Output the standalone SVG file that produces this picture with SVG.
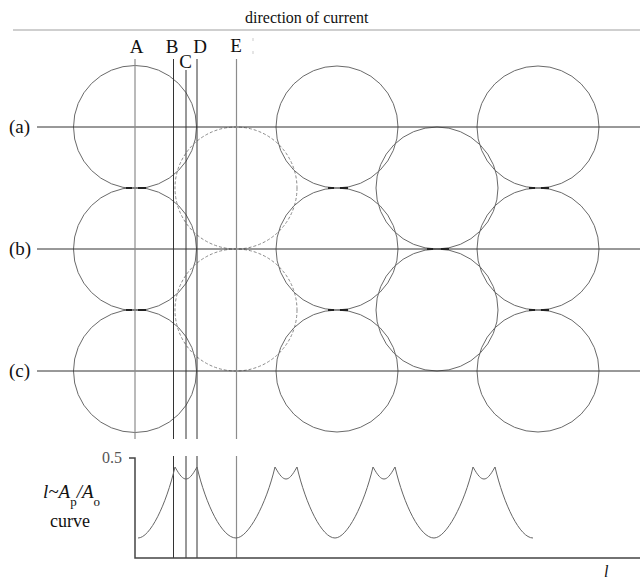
<svg xmlns="http://www.w3.org/2000/svg" width="640" height="579" viewBox="0 0 640 579" font-family="'Liberation Serif','DejaVu Serif','Noto Serif',serif">
<style>
text{font-family:"Liberation Serif","DejaVu Serif",serif;fill:#111}
.lbl{font-size:19px}
.sc{fill:none;stroke:#6a6a6a;stroke-width:1}
.dc{fill:none;stroke:#8a8a8a;stroke-width:1;stroke-dasharray:3 2}
.row{stroke:#333;stroke-width:1}
.vd{stroke:#333;stroke-width:1}
.vg{stroke:#8c8c8c;stroke-width:1.2}
.ct{stroke:#222;stroke-width:2}
.ax{stroke:#444;stroke-width:1.5;fill:none}
.cur{fill:none;stroke:#666;stroke-width:1}
</style>
<rect width="640" height="579" fill="#fff"/>
<g id="header">
<line x1="13" y1="30" x2="640" y2="30" stroke="#cfcfcf" stroke-width="2"/>
<text x="245" y="23" font-size="16">direction of current</text>
</g>
<g id="circles">
<g id="col1"><circle class="sc" cx="135" cy="127" r="61.5"/><circle class="sc" cx="135" cy="249" r="61.5"/><circle class="sc" cx="135" cy="371" r="61.5"/></g>
<g id="col2"><circle class="dc" cx="236" cy="188" r="61"/><circle class="dc" cx="236" cy="310" r="61"/></g>
<g id="col3"><circle class="sc" cx="337" cy="127" r="61"/><circle class="sc" cx="337" cy="249" r="61"/><circle class="sc" cx="337" cy="371" r="61"/></g>
<g id="col4"><circle class="sc" cx="437" cy="188" r="61"/><circle class="sc" cx="437" cy="310" r="61"/></g>
<g id="col5"><circle class="sc" cx="538" cy="127" r="61"/><circle class="sc" cx="538" cy="249" r="61"/><circle class="sc" cx="538" cy="371" r="61"/></g>
</g>
<g id="connectors">
<line class="row" x1="37" y1="127" x2="640" y2="127"/>
<line class="row" x1="37" y1="249" x2="640" y2="249"/>
<line class="row" x1="37" y1="371" x2="640" y2="371"/>
<line class="vg" x1="135" y1="59" x2="135" y2="439"/>
<line class="vd" x1="173.5" y1="59" x2="173.5" y2="439"/>
<line class="vd" x1="186" y1="70" x2="186" y2="439"/>
<line class="vd" x1="197" y1="59" x2="197" y2="439"/>
<line class="vg" x1="236.5" y1="59" x2="236.5" y2="439"/>
<line class="vd" x1="173.5" y1="456" x2="173.5" y2="558"/>
<line class="vd" x1="186" y1="456" x2="186" y2="558"/>
<line class="vd" x1="197" y1="456" x2="197" y2="558"/>
<line class="vg" x1="236.5" y1="456" x2="236.5" y2="558"/>
<g id="contacts">
<path class="ct" d="M126,188H132M138,188H146M126,310H132M138,310H146"/>
<path class="ct" d="M328,188H334M340,188H348M328,310H334M340,310H348"/>
<path class="ct" d="M529,188H535M541,188H549M529,310H535M541,310H549"/>
<path class="ct" d="M427,249H433M441,249H449"/>
</g>
</g>
<g id="labels">
<text class="lbl" x="9" y="133">(a)</text>
<text class="lbl" x="9" y="255">(b)</text>
<text class="lbl" x="9" y="377">(c)</text>
<text class="lbl" x="136.5" y="53" text-anchor="middle">A</text>
<text class="lbl" x="172" y="53" text-anchor="middle">B</text>
<text class="lbl" x="185.5" y="68" text-anchor="middle">C</text>
<text class="lbl" x="200" y="53" text-anchor="middle">D</text>
<text class="lbl" x="236" y="52" text-anchor="middle">E</text>
<rect x="252.5" y="38" width="1" height="3" fill="#ccc"/>
<rect x="252.5" y="51" width="1" height="3" fill="#ccc"/>
</g>
<g id="graph">
<path class="ax" d="M129,458H135V558H640"/>
<text x="102" y="463" font-size="16" style="fill:#555">0.5</text>
<text x="43" y="498" font-size="19" font-style="italic">l~A<tspan font-size="13" font-style="normal" dy="8">p</tspan><tspan dy="-8">/A</tspan><tspan font-size="13" font-style="normal" dy="8">o</tspan></text>
<text x="50" y="527" font-size="18">curve</text>
<text x="604" y="577" font-size="16" font-style="italic">l</text>
<path class="cur" d="M138,538 C150,538 166,505 175,467 C180,476 183,479 186,479 C189,479 192,476 197,467 C206,505 222,538 236,538 C248,538 266,505 275,467 C280,476 283,479 286,479 C289,479 292,476 297,467 C306,505 322,538 335,538 C347,538 364,505 373,467 C378,476 381,479 384,479 C387,479 390,476 395,467 C404,505 420,538 434,538 C446,538 464,505 473,467 C478,476 481,479 484,479 C487,479 490,476 495,467 C504,505 520,538 533,538"/>
</g>
</svg>
